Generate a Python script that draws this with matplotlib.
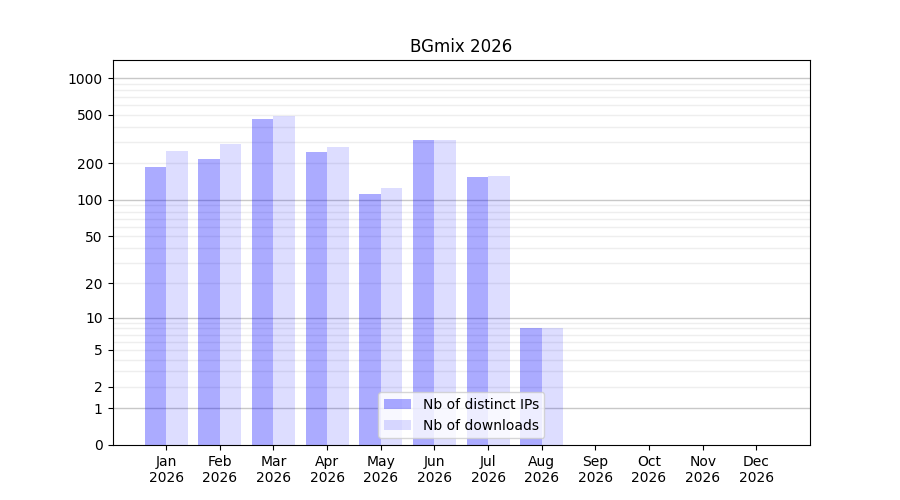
import numpy as np
import matplotlib
matplotlib.use('Agg')
import matplotlib.pyplot as plt

months = ['Jan', 'Feb', 'Mar', 'Apr', 'May', 'Jun', 'Jul', 'Aug',
          'Sep', 'Oct', 'Nov', 'Dec']
year = '2026'
distinct_ips = [187, 217, 463, 249, 112, 311, 155, 8, 0, 0, 0, 0]
downloads = [253, 288, 490, 273, 126, 311, 158, 8, 0, 0, 0, 0]

ytick_vals = [0, 1, 2, 5, 10, 20, 50, 100, 200, 500, 1000]


def fwd(y):
    return np.log10(1 + np.clip(y, 0, None))


def inv(y):
    return 10 ** y - 1


fig = plt.figure(figsize=(9, 5), dpi=100)
ax = fig.add_subplot(1, 1, 1)

index = np.arange(len(months))
bar_width = 0.4

ax.bar(index - bar_width / 2, distinct_ips, bar_width,
       color='blue', alpha=0.33, label='Nb of distinct IPs')
ax.bar(index + bar_width / 2, downloads, bar_width,
       color='blue', alpha=0.133, label='Nb of downloads')

ax.set_yscale('function', functions=(fwd, inv))
ax.set_ylim(0, 1405)
ax.set_xlim(-1, 12)

# grid lines: decades darker, 2..9 multiples lighter
major_grid = [1, 10, 100, 1000]
minor_grid = [m * 10 ** k for k in range(3) for m in range(2, 10)]
for g in minor_grid:
    ax.axhline(g, color='#eeeeee', linewidth=1, zorder=0)
for g in major_grid:
    ax.axhline(g, color='#c8c8c8', linewidth=1, zorder=0)

ax.set_yticks(ytick_vals)
ax.set_yticklabels([str(v) for v in ytick_vals])
ax.yaxis.set_minor_locator(matplotlib.ticker.NullLocator())
ax.set_xticks(index)
ax.set_xticklabels([m + '\n' + year for m in months])

ax.set_title('BGmix 2026')
ax.legend(loc='lower center')

plt.savefig('out.png', dpi=100)
